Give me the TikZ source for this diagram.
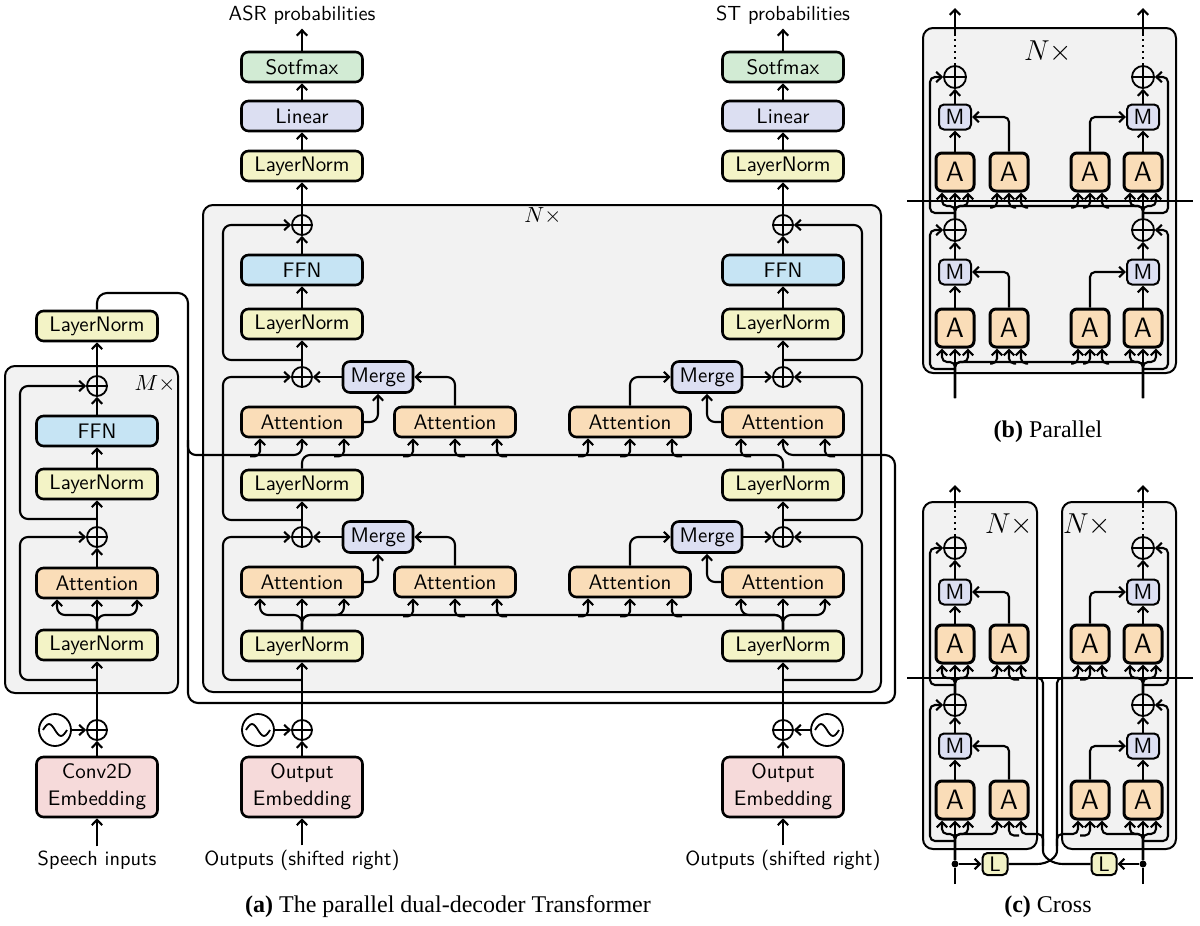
\documentclass[tikz,border=0pt]{standalone}
\usepackage{fontspec}
\newfontfamily\capfont{Liberation Serif}
\usetikzlibrary{arrows.meta,calc}
\definecolor{lnc}{HTML}{F3F3C6}
\definecolor{ffnc}{HTML}{C6E4F4}
\definecolor{attc}{HTML}{FADDB8}
\definecolor{mrgc}{HTML}{DCDFF2}
\definecolor{smc}{HTML}{D2EBD4}
\definecolor{embc}{HTML}{F6DADA}
\definecolor{contc}{HTML}{F2F2F2}
\tikzset{
  con/.style={line width=1.05pt},
  arr/.style={con,-{Straight Barb[length=2.7pt,width=5.2pt]}},
  rc/.style={rounded corners=4pt},
  tapc/.style={rounded corners=2.5pt},
  blk/.style={draw, line width=1.3pt, rounded corners=3.5pt, minimum width=60.5pt, minimum height=15pt, inner sep=0pt, font=\sffamily\fontsize{10.5}{12}\selectfont},
  lnb/.style={blk, fill=lnc},
  ffnb/.style={blk, fill=ffnc},
  attb/.style={blk, fill=attc},
  mrgb/.style={blk, fill=mrgc, minimum width=35pt, minimum height=15.5pt},
  linb/.style={blk, fill=mrgc},
  smb/.style={blk, fill=smc},
  embb/.style={blk, fill=embc, minimum height=30pt, align=center, font=\sffamily\fontsize{10.5}{13.5}\selectfont},
  cont/.style={draw, line width=1pt, fill=contc, rounded corners=5pt},
  plus/.style={circle, draw, line width=0.9pt, minimum size=10pt, inner sep=0pt, path picture={\draw[line width=0.9pt] (path picture bounding box.north) -- (path picture bounding box.south) (path picture bounding box.west) -- (path picture bounding box.east);}},
  bplus/.style={plus, minimum size=11pt},
  sine/.style={circle, draw, line width=0.9pt, minimum size=16pt, inner sep=0pt, path picture={\draw[line width=0.9pt, shift={(path picture bounding box.center)}, x=1pt, y=1pt] (-6,0) sin (-3,3) cos (0,0) sin (3,-3) cos (6,0);}},
  lbl/.style={font=\sffamily\fontsize{10.2}{12}\selectfont, inner sep=2pt},
  nx/.style={font=\fontsize{11}{13}\selectfont},
  bnx/.style={font=\fontsize{13.5}{15}\selectfont},
  captext/.style={font=\capfont\fontsize{12}{14}\selectfont},
  abox/.style={draw, line width=1.5pt, rounded corners=3pt, fill=attc, minimum width=19pt, minimum height=19pt, inner sep=0pt, font=\sffamily\fontsize{14}{14}\selectfont},
  mbox/.style={draw, line width=1pt, rounded corners=2.5pt, fill=mrgc, minimum width=16pt, minimum height=12.5pt, inner sep=0pt, font=\sffamily\fontsize{11}{11}\selectfont},
  lbox/.style={draw, line width=1pt, rounded corners=2.5pt, fill=lnc, minimum width=12.5pt, minimum height=11pt, inner sep=0pt, font=\sffamily\fontsize{10.5}{11}\selectfont},
  dotn/.style={circle, fill, inner sep=0pt, minimum size=3.5pt},
}
\newcommand\tap[4]{\draw[arr,tapc] ($(#1.south)+({#2+#4},#3)$) -| ($(#1.south)+(#2,0)$);}
\begin{document}
\begin{tikzpicture}[x=0.5pt,y=-0.5pt]
\useasboundingbox (0,0) rectangle (1200,926);
% containers
\draw[cont] (5,366) rectangle (178,693);
\draw[cont] (203,205) rectangle (881,692);
\draw[cont] (923,28) rectangle (1176,373);
\draw[cont] (923,502) rectangle (1037,849);
\draw[cont] (1062,502) rectangle (1176,849);
\node[nx] (mx) at (155,384) {$M\times$};
\node[nx] (nxa) at (543,216) {$N\times$};
\node[bnx] (nxb) at (1048,52) {$N\times$};
\node[bnx] (nxc1) at (1009,525) {$N\times$};
\node[bnx] (nxc2) at (1087,525) {$N\times$};

% ===== encoder =====
\node[lnb] (lnE) at (97,326) {LayerNorm};
\node[plus] (pE2) at (97,386) {};
\node[ffnb] (ffnE) at (97,431) {FFN};
\node[lnb] (lnE2) at (97,484) {LayerNorm};
\node[plus] (pE1) at (97,537) {};
\node[attb] (attE) at (97,583) {Attention};
\node[lnb] (lnE1) at (97,645) {LayerNorm};
\node[plus] (pEmbE) at (97,730) {};
\node[sine] (sinE) at (55,730) {};
\node[embb] (convE) at (97,787) {Conv2D\\Embedding};
\node[lbl] (speech) at (97,860) {Speech inputs};

\draw[arr] (speech) -- (convE);
\draw[arr] (convE) -- (pEmbE);
\draw[arr] (sinE) -- (pEmbE);
\draw[arr] (pEmbE) -- (lnE1);
\draw[arr] (lnE1) -- (attE);
\draw[arr,rc] (lnE1.north) -- (97,615) -| ($(attE.south)+(-40,0)$);
\draw[arr,rc] (lnE1.north) -- (97,615) -| ($(attE.south)+(40,0)$);
\draw[arr] (attE) -- (pE1);
\draw[arr] (pE1) -- (lnE2);
\draw[arr] (lnE2) -- (ffnE);
\draw[arr] (ffnE) -- (pE2);
\draw[arr] (pE2) -- (lnE);
\draw[arr,rc] (97,680) -- (20,680) |- (pE1.west);
\draw[arr,rc] (97,519) -- (20,519) |- (pE2.west);

% ===== left decoder (ASR) =====
\node[lbl] (asr) at (302,15) {ASR probabilities};
\node[smb] (smL) at (302,67) {Sotfmax};
\node[linb] (linL) at (302,116) {Linear};
\node[lnb] (lnfL) at (302,166) {LayerNorm};
\node[plus] (pTopL) at (302,225) {};
\node[ffnb] (ffnL) at (302,270) {FFN};
\node[lnb] (ln3L) at (302,324) {LayerNorm};
\node[plus] (pMidL) at (302,377) {};
\node[mrgb] (mUL) at (378,377) {Merge};
\node[attb] (aU1L) at (302,422) {Attention};
\node[attb] (aU2L) at (455,422) {Attention};
\node[lnb] (ln2L) at (302,485) {LayerNorm};
\node[plus] (pLowL) at (302,537) {};
\node[mrgb] (mLL) at (378,537) {Merge};
\node[attb] (aL1L) at (302,582) {Attention};
\node[attb] (aL2L) at (455,582) {Attention};
\node[lnb] (ln1L) at (302,646) {LayerNorm};
\node[plus] (pEL) at (302,730) {};
\node[sine] (sL) at (258,730) {};
\node[embb] (embL) at (302,787) {Output\\Embedding};
\node[lbl] (outL) at (302,860) {Outputs (shifted right)};

% ===== right decoder (ST) =====
\node[lbl] (st) at (783,15) {ST probabilities};
\node[smb] (smR) at (783,67) {Sotfmax};
\node[linb] (linR) at (783,116) {Linear};
\node[lnb] (lnfR) at (783,166) {LayerNorm};
\node[plus] (pTopR) at (783,225) {};
\node[ffnb] (ffnR) at (783,270) {FFN};
\node[lnb] (ln3R) at (783,324) {LayerNorm};
\node[plus] (pMidR) at (783,377) {};
\node[mrgb] (mUR) at (707,377) {Merge};
\node[attb] (aU1R) at (630,422) {Attention};
\node[attb] (aU2R) at (783,422) {Attention};
\node[lnb] (ln2R) at (783,485) {LayerNorm};
\node[plus] (pLowR) at (783,537) {};
\node[mrgb] (mLR) at (707,537) {Merge};
\node[attb] (aL1R) at (630,582) {Attention};
\node[attb] (aL2R) at (783,582) {Attention};
\node[lnb] (ln1R) at (783,646) {LayerNorm};
\node[plus] (pER) at (783,730) {};
\node[sine] (sR) at (827,730) {};
\node[embb] (embR) at (783,787) {Output\\Embedding};
\node[lbl] (outR) at (783,860) {Outputs (shifted right)};

% left decoder connections
\draw[arr] (smL) -- (asr);
\draw[arr] (linL) -- (smL);
\draw[arr] (lnfL) -- (linL);
\draw[arr] (pTopL) -- (lnfL);
\draw[arr] (ffnL) -- (pTopL);
\draw[arr] (ln3L) -- (ffnL);
\draw[arr] (pMidL) -- (ln3L);
\draw[arr] (mUL) -- (pMidL);
\draw[arr,rc] (aU1L.east) -| (mUL.south);
\draw[arr,rc] (aU2L.north) |- (mUL.east);
\draw[arr] (pLowL) -- (ln2L);
\draw[arr] (mLL) -- (pLowL);
\draw[arr,rc] (aL1L.east) -| (mLL.south);
\draw[arr,rc] (aL2L.north) |- (mLL.east);
\draw[arr] (pEL) -- (ln1L);
\draw[arr] (embL) -- (pEL);
\draw[arr] (sL) -- (pEL);
\draw[arr] (outL) -- (embL);
\draw[arr,rc] (302,680) -- (223,680) |- (pLowL.west);
\draw[arr,rc] (302,520) -- (223,520) |- (pMidL.west);
\draw[arr,rc] (302,360) -- (223,360) |- (pTopL.west);

% right decoder connections
\draw[arr] (smR) -- (st);
\draw[arr] (linR) -- (smR);
\draw[arr] (lnfR) -- (linR);
\draw[arr] (pTopR) -- (lnfR);
\draw[arr] (ffnR) -- (pTopR);
\draw[arr] (ln3R) -- (ffnR);
\draw[arr] (pMidR) -- (ln3R);
\draw[arr] (mUR) -- (pMidR);
\draw[arr,rc] (aU2R.west) -| (mUR.south);
\draw[arr,rc] (aU1R.north) |- (mUR.west);
\draw[arr] (pLowR) -- (ln2R);
\draw[arr] (mLR) -- (pLowR);
\draw[arr,rc] (aL2R.west) -| (mLR.south);
\draw[arr,rc] (aL1R.north) |- (mLR.west);
\draw[arr] (pER) -- (ln1R);
\draw[arr] (embR) -- (pER);
\draw[arr] (sR) -- (pER);
\draw[arr] (outR) -- (embR);
\draw[arr,rc] (783,680) -- (862,680) |- (pLowR.east);
\draw[arr,rc] (783,520) -- (862,520) |- (pMidR.east);
\draw[arr,rc] (783,360) -- (862,360) |- (pTopR.east);

% lower bus
\draw[con,rc] (ln1L.north) -- (302,615) -- (783,615) -- (ln1R.north);
\draw[arr] (ln1L) -- (aL1L);
\draw[arr,rc] (ln1L.north) -- (302,615) -| ($(aL1L.south)+(-42,0)$);
\draw[arr,rc] (ln1L.north) -- (302,615) -| ($(aL1L.south)+(42,0)$);
\draw[arr] (ln1R) -- (aL2R);
\draw[arr,rc] (ln1R.north) -- (783,615) -| ($(aL2R.south)+(-42,0)$);
\draw[arr,rc] (ln1R.north) -- (783,615) -| ($(aL2R.south)+(42,0)$);
\tap{aL2L}{-42}{18}{-10}
\tap{aL2L}{0}{18}{10}
\tap{aL2L}{42}{18}{10}
\tap{aL1R}{-42}{18}{-10}
\tap{aL1R}{0}{18}{-10}
\tap{aL1R}{42}{18}{10}

% upper bus
\draw[con,rc] (ln2L.north) -- (302,455) -- (783,455) -- (ln2R.north);
\tap{aU1L}{42}{18}{-10}
\tap{aU2L}{-42}{18}{-10}
\tap{aU2L}{0}{18}{10}
\tap{aU2L}{42}{18}{10}
\tap{aU1R}{-42}{18}{-10}
\tap{aU1R}{0}{18}{-10}
\tap{aU1R}{42}{18}{10}
\tap{aU2R}{-42}{18}{10}

% encoder output route
\draw[arr,rounded corners=5pt] (lnE.north) |- (188,293) -- (188,703) -| (895,455) -| (aU2R.south);
\draw[arr,rc] (188,440) -- (188,455) -| (aU1L.south);
\tap{aU1L}{-42}{18}{-10}
\tap{aU2R}{42}{18}{10}

% ===== (b) Parallel =====
\node[abox] (bA1u) at (955,172) {A};
\node[abox] (bA2u) at (1009,172) {A};
\node[abox] (bA3u) at (1090,172) {A};
\node[abox] (bA4u) at (1143,172) {A};
\node[mbox] (bM1u) at (955,117) {M};
\node[mbox] (bM2u) at (1143,117) {M};
\node[bplus] (bP1u) at (955,77) {};
\node[bplus] (bP2u) at (1143,77) {};
\node[abox] (bA1d) at (955,328) {A};
\node[abox] (bA2d) at (1009,328) {A};
\node[abox] (bA3d) at (1090,328) {A};
\node[abox] (bA4d) at (1143,328) {A};
\node[mbox] (bM1d) at (955,272) {M};
\node[mbox] (bM2d) at (1143,272) {M};
\node[bplus] (bP1d) at (955,230) {};
\node[bplus] (bP2d) at (1143,230) {};
\coordinate (bT1) at (955,8);
\coordinate (bT2) at (1143,8);
\coordinate (bB1) at (955,398);
\coordinate (bB2) at (1143,398);

\draw[con,dotted] (bP1u.north) -- (955,36);
\draw[arr] (955,36) -- (bT1);
\draw[con,dotted] (bP2u.north) -- (1143,36);
\draw[arr] (1143,36) -- (bT2);
\foreach \s in {u,d} {
  \draw[arr] (bA1\s) -- (bM1\s);
  \draw[arr] (bM1\s) -- (bP1\s);
  \draw[arr,tapc] (bA2\s.north) |- (bM1\s.east);
  \draw[arr] (bA4\s) -- (bM2\s);
  \draw[arr] (bM2\s) -- (bP2\s);
  \draw[arr,tapc] (bA3\s.north) |- (bM2\s.west);
}
% upper row inputs
\draw[con,tapc] (bP1d.north) -- (955,206) -- (1143,206) -- (bP2d.north);
\draw[arr] (bP1d) -- (bA1u);
\draw[arr,tapc] (bP1d.north) -- (955,206) -| ($(bA1u.south)+(-13,0)$);
\draw[arr,tapc] (bP1d.north) -- (955,206) -| ($(bA1u.south)+(13,0)$);
\draw[arr] (bP2d) -- (bA4u);
\draw[arr,tapc] (bP2d.north) -- (1143,206) -| ($(bA4u.south)+(-13,0)$);
\draw[arr,tapc] (bP2d.north) -- (1143,206) -| ($(bA4u.south)+(13,0)$);
\draw[arr,tapc] (955,213) -- (930,213) |- (bP1u.west);
\draw[arr,tapc] (1143,213) -- (1168,213) |- (bP2u.east);
\tap{bA2u}{-12}{15}{-7}
\tap{bA2u}{0}{15}{7}
\tap{bA2u}{12}{15}{7}
\tap{bA3u}{-12}{15}{-7}
\tap{bA3u}{0}{15}{-7}
\tap{bA3u}{12}{15}{7}
% lower row inputs
\draw[con,tapc] (bB1) -- (955,362) -- (1143,362) -- (bB2);
\draw[arr] (bB1) -- (bA1d);
\draw[arr,tapc] (bB1) -- (955,362) -| ($(bA1d.south)+(-13,0)$);
\draw[arr,tapc] (bB1) -- (955,362) -| ($(bA1d.south)+(13,0)$);
\draw[arr] (bB2) -- (bA4d);
\draw[arr,tapc] (bB2) -- (1143,362) -| ($(bA4d.south)+(-13,0)$);
\draw[arr,tapc] (bB2) -- (1143,362) -| ($(bA4d.south)+(13,0)$);
\draw[arr,tapc] (955,369) -- (930,369) |- (bP1d.west);
\draw[arr,tapc] (1143,369) -- (1168,369) |- (bP2d.east);
\tap{bA2d}{-12}{15}{-7}
\tap{bA2d}{0}{15}{7}
\tap{bA2d}{12}{15}{7}
\tap{bA3d}{-12}{15}{-7}
\tap{bA3d}{0}{15}{-7}
\tap{bA3d}{12}{15}{7}
\coordinate (cutb1) at (907,201);
\coordinate (cutb2) at (1193,201);
\draw[con] (cutb1) -- (cutb2);

% ===== (c) Cross =====
\node[abox] (cA1u) at (955,644) {A};
\node[abox] (cA2u) at (1009,644) {A};
\node[abox] (cA3u) at (1090,644) {A};
\node[abox] (cA4u) at (1143,644) {A};
\node[mbox] (cM1u) at (955,592) {M};
\node[mbox] (cM2u) at (1143,592) {M};
\node[bplus] (cP1u) at (955,548) {};
\node[bplus] (cP2u) at (1143,548) {};
\node[abox] (cA1d) at (955,800) {A};
\node[abox] (cA2d) at (1009,800) {A};
\node[abox] (cA3d) at (1090,800) {A};
\node[abox] (cA4d) at (1143,800) {A};
\node[mbox] (cM1d) at (955,746) {M};
\node[mbox] (cM2d) at (1143,746) {M};
\node[bplus] (cP1d) at (955,705) {};
\node[bplus] (cP2d) at (1143,705) {};
\node[lbox] (cL1) at (995,864) {L};
\node[lbox] (cL2) at (1104,864) {L};
\node[dotn] (cD1) at (955,864) {};
\node[dotn] (cD2) at (1143,864) {};
\coordinate (cT1) at (955,485);
\coordinate (cT2) at (1143,485);
\coordinate (cB1) at (955,884);
\coordinate (cB2) at (1143,884);

\draw[con,dotted] (cP1u.north) -- (955,508);
\draw[arr] (955,508) -- (cT1);
\draw[con,dotted] (cP2u.north) -- (1143,508);
\draw[arr] (1143,508) -- (cT2);
\foreach \s in {u,d} {
  \draw[arr] (cA1\s) -- (cM1\s);
  \draw[arr] (cM1\s) -- (cP1\s);
  \draw[arr,tapc] (cA2\s.north) |- (cM1\s.east);
  \draw[arr] (cA4\s) -- (cM2\s);
  \draw[arr] (cM2\s) -- (cP2\s);
  \draw[arr,tapc] (cA3\s.north) |- (cM2\s.west);
}
% upper row own streams
\draw[arr] (cP1d) -- (cA1u);
\draw[arr,tapc] (cP1d.north) -- (955,678) -| ($(cA1u.south)+(-13,0)$);
\draw[arr,tapc] (cP1d.north) -- (955,678) -| ($(cA1u.south)+(13,0)$);
\draw[arr,tapc] (cP1d.north) -- (955,678) -| ($(cA2u.south)+(-12,0)$);
\draw[arr] (cP2d) -- (cA4u);
\draw[arr,tapc] (cP2d.north) -- (1143,678) -| ($(cA4u.south)+(-13,0)$);
\draw[arr,tapc] (cP2d.north) -- (1143,678) -| ($(cA4u.south)+(13,0)$);
\draw[arr,tapc] (cP2d.north) -- (1143,678) -| ($(cA3u.south)+(12,0)$);
\draw[arr,tapc] (955,685) -- (930,685) |- (cP1u.west);
\draw[arr,tapc] (1143,685) -- (1168,685) |- (cP2u.east);
% lower row own streams
\draw[con] (cB1) -- (cD1);
\draw[con] (cB2) -- (cD2);
\draw[arr] (cD1) -- (cA1d);
\draw[arr,tapc] (cD1) -- (955,834) -| ($(cA1d.south)+(-13,0)$);
\draw[arr,tapc] (cD1) -- (955,834) -| ($(cA1d.south)+(13,0)$);
\draw[arr,tapc] (cD1) -- (955,834) -| ($(cA2d.south)+(-12,0)$);
\draw[arr] (cD2) -- (cA4d);
\draw[arr,tapc] (cD2) -- (1143,834) -| ($(cA4d.south)+(-13,0)$);
\draw[arr,tapc] (cD2) -- (1143,834) -| ($(cA4d.south)+(13,0)$);
\draw[arr,tapc] (cD2) -- (1143,834) -| ($(cA3d.south)+(12,0)$);
\draw[arr,tapc] (955,841) -- (930,841) |- (cP1d.west);
\draw[arr,tapc] (1143,841) -- (1168,841) |- (cP2d.east);
\draw[arr] (cD1) -- (cL1);
\draw[arr] (cD2) -- (cL2);
% cross lines
\draw[arr,tapc] (cL2.west) -- (1068,864) .. controls (1052,864) and (1043,857) .. (1043,846) -- (1043,678) -| ($(cA2u.south)+(12,0)$);
\draw[arr,tapc] (cL1.east) -- (1032,864) .. controls (1048,864) and (1057,857) .. (1057,846) -- (1057,678) -| ($(cA3u.south)+(-12,0)$);
\tap{cA2u}{0}{15}{10}
\tap{cA3u}{0}{15}{-10}
\draw[arr,tapc] (1043,846) |- (1032,834) -| ($(cA2d.south)+(12,0)$);
\draw[arr,tapc] (1057,846) |- (1068,834) -| ($(cA3d.south)+(-12,0)$);
\tap{cA2d}{0}{15}{10}
\tap{cA3d}{0}{15}{-10}
\coordinate (cutc1) at (907,678);
\coordinate (cutc2) at (1193,678);
\draw[con] (cutc1) -- (cutc2);

% captions
\node[captext] (capA) at (448,907) {\textbf{(a)} The parallel dual-decoder Transformer};
\node[captext] (capB) at (1048,432) {\textbf{(b)} Parallel};
\node[captext] (capC) at (1048,907) {\textbf{(c)} Cross};
\end{tikzpicture}
\end{document}
